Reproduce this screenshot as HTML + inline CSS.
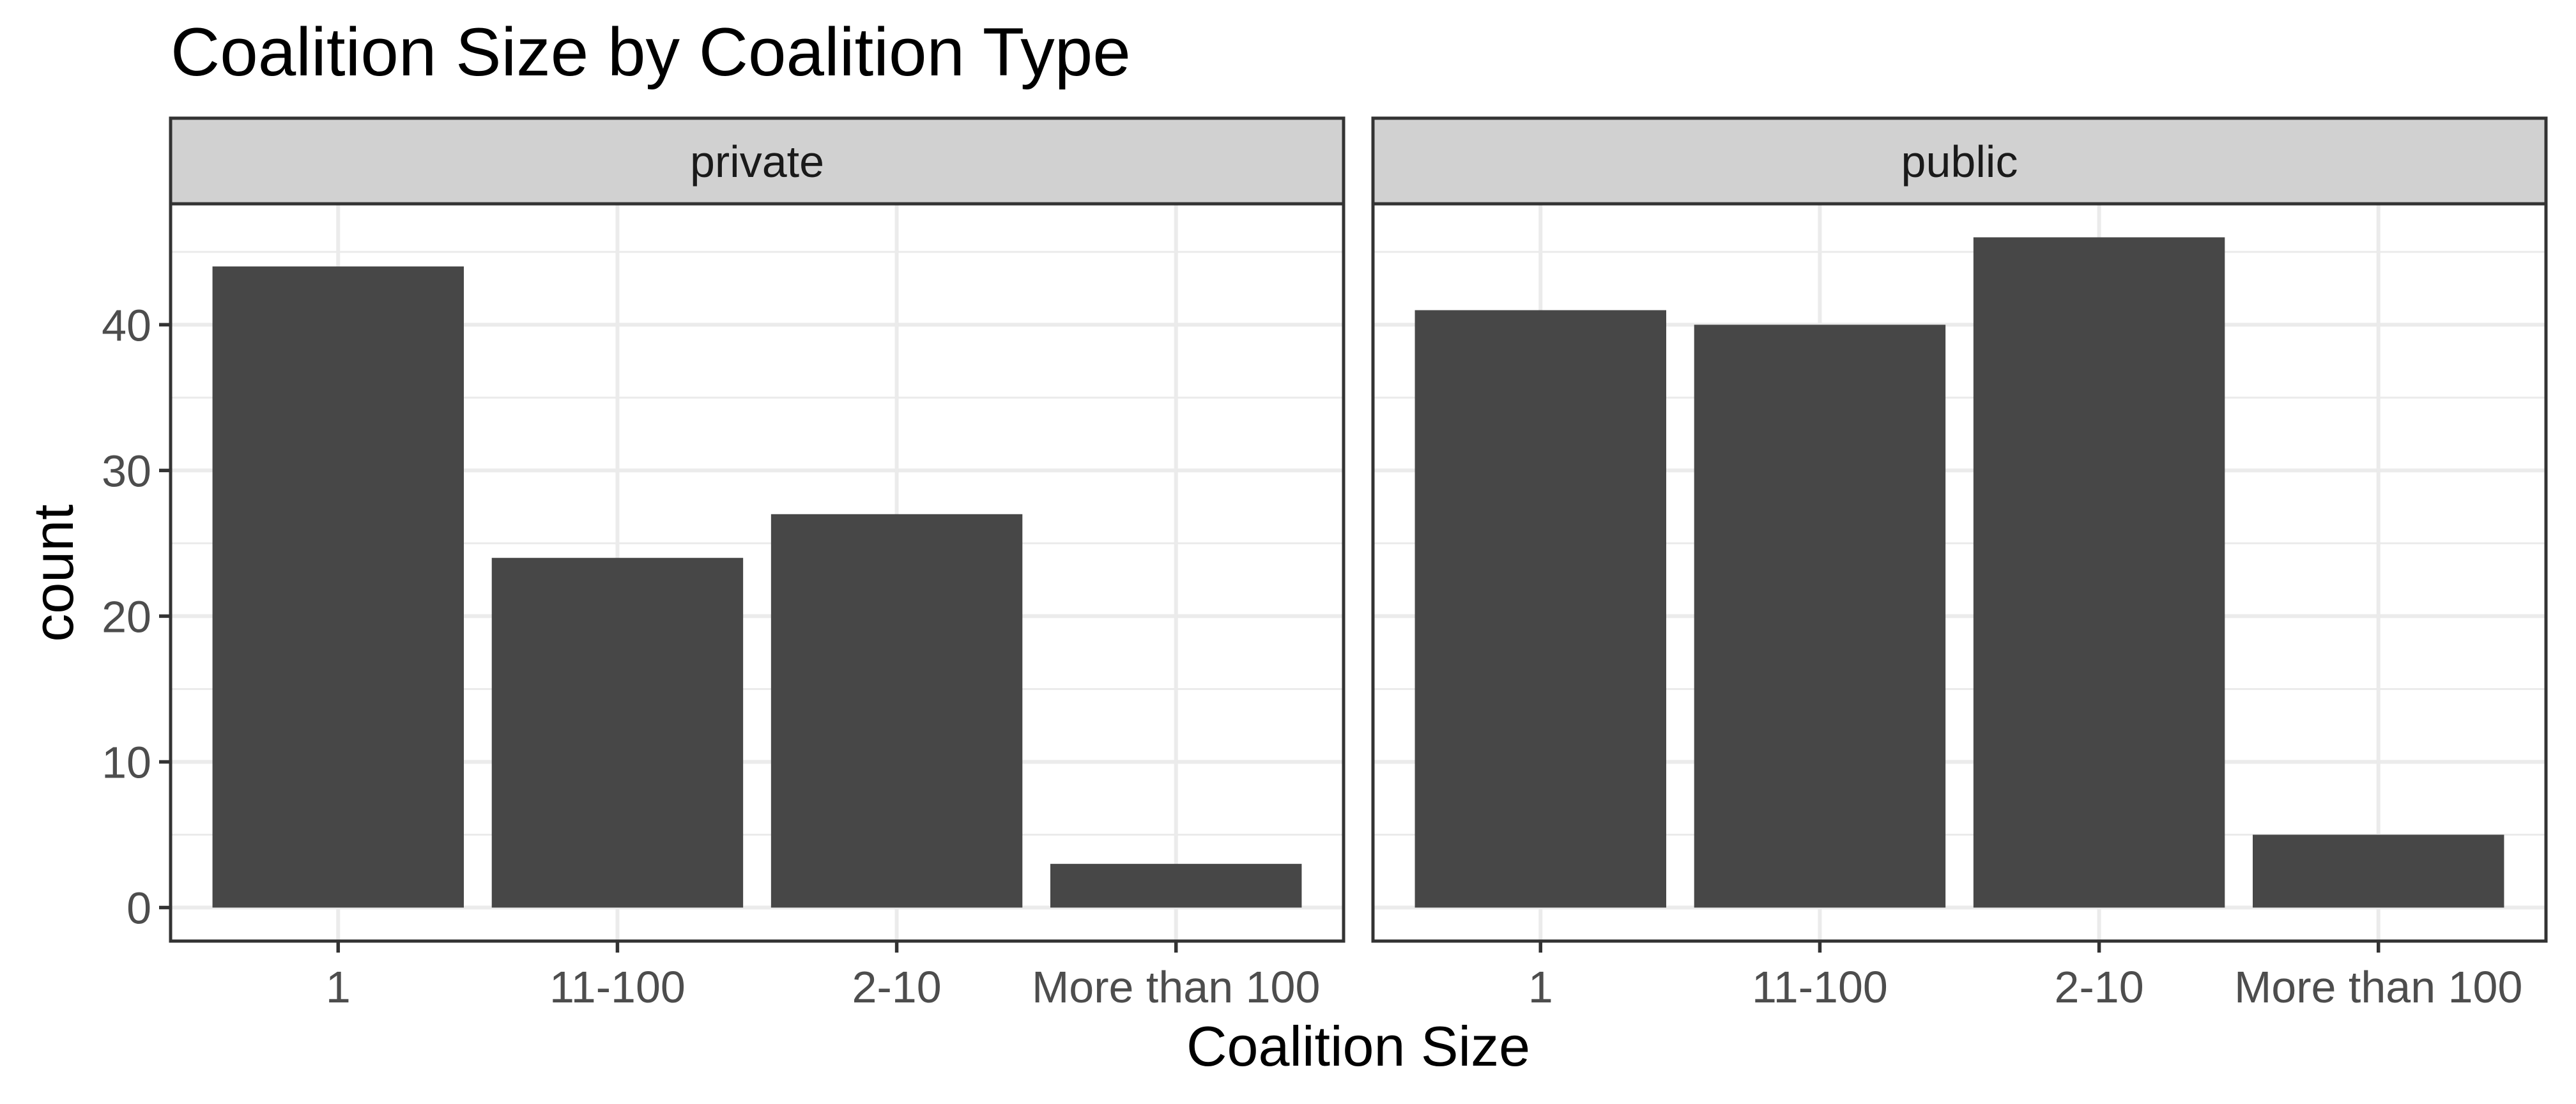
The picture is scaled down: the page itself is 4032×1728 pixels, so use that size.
<!DOCTYPE html>
<html><head><meta charset="utf-8"><style>html,body{margin:0;padding:0;background:#fff}svg{display:block}text{font-family:"Liberation Sans",Arial,sans-serif}</style></head>
<body>
<svg id="chart" xmlns="http://www.w3.org/2000/svg" width="4032" height="1728" viewBox="0 0 4032 1728">
<rect width="4032" height="1728" fill="#fff"/>
<text x="267" y="118" font-size="107" fill="#000">Coalition Size by Coalition Type</text>
<text x="2126" y="1668" font-size="88" text-anchor="middle" fill="#000">Coalition Size</text>
<text transform="translate(114,897) rotate(-90)" font-size="88" text-anchor="middle" fill="#000">count</text>
<g id="panels"></g>
</svg>
<script>
const categories = ["1", "11-100", "2-10", "More than 100"];
const facets = ["private", "public"];
const privateCounts = [44, 24, 27, 3];
const publicCounts = [41, 40, 46, 5];
const yTicks = [0, 10, 20, 30, 40];
const yMinor = [5, 15, 25, 35, 45];

const NS = "http://www.w3.org/2000/svg";
const root = document.getElementById('panels');
const panelLefts = [267, 2149];
const panelW = 1836, stripTop = 185, plotTop = 319, plotBottom = 1473;
const allVals = privateCounts.concat(publicCounts);
const yMax = Math.max(...allVals);
const yLo = -0.05 * yMax, yHi = yMax * 1.05;
function yScale(v) { return plotBottom - (v - yLo) / (yHi - yLo) * (plotBottom - plotTop); }
function xScale(i, left) { return left + (i + 1 - 0.4) / 4.2 * panelW; }
function mk(tag, attrs) { const e = document.createElementNS(NS, tag); for (const k in attrs) e.setAttribute(k, attrs[k]); return e; }

facets.forEach((f, fi) => {
  const left = panelLefts[fi];
  const vals = fi === 0 ? privateCounts : publicCounts;
  const g = mk('g', {});
  
  
  root.appendChild(g);
  yMinor.forEach(v => {
    const l = mk('line', {x1: left, x2: left + panelW, y1: yScale(v), y2: yScale(v), stroke: '#ebebeb', 'stroke-width': 3});
    
    
    g.appendChild(l);
  });
  yTicks.forEach(v => {
    const l = mk('line', {x1: left, x2: left + panelW, y1: yScale(v), y2: yScale(v), stroke: '#ebebeb', 'stroke-width': 6});
    
    
    g.appendChild(l);
  });
  categories.forEach((c, i) => {
    const x = xScale(i, left);
    const l = mk('line', {x1: x, x2: x, y1: plotTop, y2: plotBottom, stroke: '#ebebeb', 'stroke-width': 6});
    
    
    g.appendChild(l);
  });
  categories.forEach((c, i) => {
    const x = xScale(i, left);
    const bw = 0.9 / 4.2 * panelW;
    const r = mk('rect', {x: x - bw / 2, y: yScale(vals[i]), width: bw, height: yScale(0) - yScale(vals[i]), fill: '#474747'});
    
    
    g.appendChild(r);
    const t = mk('line', {x1: x, x2: x, y1: plotBottom, y2: plotBottom + 18, stroke: '#333', 'stroke-width': 5.5});
    
    
    g.appendChild(t);
    const tx = mk('text', {x: x, y: 1569, 'font-size': 70, fill: '#4d4d4d', 'text-anchor': 'middle'});
    tx.textContent = c;
    
    
    g.appendChild(tx);
  });
  const border = mk('rect', {x: left, y: plotTop, width: panelW, height: plotBottom - plotTop, fill: 'none', stroke: '#333', 'stroke-width': 5});
  
  
  g.appendChild(border);
  const strip = mk('rect', {x: left, y: stripTop, width: panelW, height: plotTop - stripTop, fill: '#d1d1d1', stroke: '#333', 'stroke-width': 5});
  
  
  g.appendChild(strip);
  const st = mk('text', {x: left + panelW / 2, y: (stripTop + plotTop) / 2 + 25, 'font-size': 70, fill: '#1a1a1a', 'text-anchor': 'middle'});
  st.textContent = f;
  
  
  g.appendChild(st);
  if (fi === 0) {
    yTicks.forEach(v => {
      const t = mk('line', {x1: left - 18, x2: left, y1: yScale(v), y2: yScale(v), stroke: '#333', 'stroke-width': 5.5});
      
      
      g.appendChild(t);
      const tx = mk('text', {x: left - 30, y: yScale(v) + 25, 'font-size': 70, fill: '#4d4d4d', 'text-anchor': 'end'});
      tx.textContent = v;
      
      
      g.appendChild(tx);
    });
  }
});
</script>
</body></html>
